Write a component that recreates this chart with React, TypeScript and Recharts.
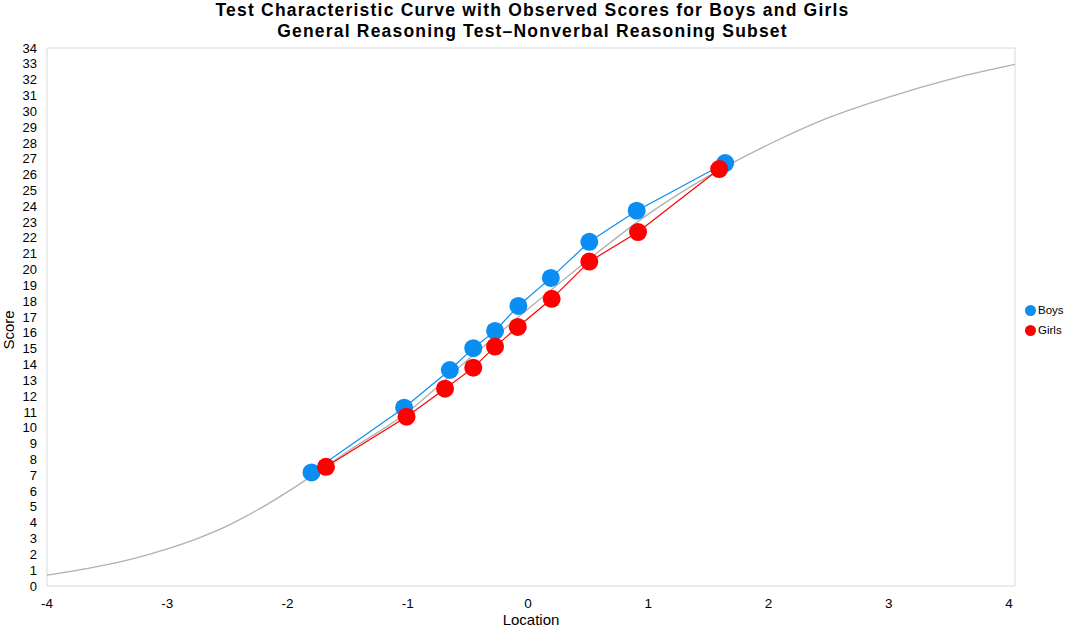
import React from 'react';
import { ComposedChart, Line, XAxis, YAxis, ReferenceArea } from 'recharts';

const curveLoc = [-4, -3.5, -3.25, -3, -2.75, -2.5, -2.25, -2, -1.75, -1.5, -1, -0.5, 0, 0.5, 1, 1.5, 2, 2.5, 3, 3.5, 4.05];
const curveScore = [0.68, 1.35, 1.8, 2.35, 3.0, 3.8, 4.8, 5.95, 7.2, 8.5, 11.0, 14.3, 17.5, 20.6, 23.5, 25.9, 27.9, 29.6, 30.9, 32.0, 32.96];

const boysLoc = [-1.8, -1.03, -0.65, -0.455, -0.274, -0.08, 0.19, 0.51, 0.904, 1.64];
const boysScore = [7.18, 11.27, 13.65, 15.03, 16.12, 17.7, 19.47, 21.75, 23.72, 26.73];

const girlsLoc = [-1.68, -1.01, -0.69, -0.455, -0.274, -0.085, 0.197, 0.51, 0.915, 1.59];
const girlsScore = [7.53, 10.7, 12.47, 13.8, 15.13, 16.37, 18.15, 20.5, 22.37, 26.35];

const xTicks = [-4, -3, -2, -1, 0, 1, 2, 3, 4];
const yTicks = Array.from({ length: 35 }, (_, i) => i);

const titleLines = [
  'Test Characteristic Curve with Observed Scores for Boys and Girls',
  'General Reasoning Test\u2013Nonverbal Reasoning Subset',
];

const BLUE = '#0a8ef4';
const RED = '#ff0000';
const FONT = '"Liberation Sans", Arial, sans-serif';

const curveData = curveLoc.map((x, i) => ({ x, y: curveScore[i] }));
const boysData = boysLoc.map((x, i) => ({ x, y: boysScore[i] }));
const girlsData = girlsLoc.map((x, i) => ({ x, y: girlsScore[i] }));

export default function App() {
  return (
    <div style={{ position: 'absolute', left: 0, top: 0, width: 1065, height: 627, background: '#fff', fontFamily: FONT }}>
      <div style={{ position: 'absolute', left: 0, top: 0, width: 1065, textAlign: 'center', fontWeight: 'bold', fontSize: 17.5, letterSpacing: 1.2, lineHeight: '21px', color: '#000' }}>
        {titleLines.map((t) => (
          <div key={t}>{t}</div>
        ))}
      </div>
      <ComposedChart width={1065} height={627} margin={{ top: 48, right: 50, bottom: 11, left: 7 }}>
        <XAxis
          type="number"
          dataKey="x"
          domain={[-4, 4.05]}
          ticks={xTicks}
          interval={0}
          allowDataOverflow
          height={30}
          axisLine={false}
          tickLine={false}
          tickMargin={6}
          tick={{ fontSize: 13.5, fill: '#000', fontFamily: FONT }}
          label={{ value: 'Location', position: 'insideBottom', offset: -9, fontSize: 15, fill: '#000', fontFamily: FONT }}
        />
        <YAxis
          type="number"
          dataKey="y"
          domain={[0, 34]}
          ticks={yTicks}
          interval={0}
          width={40}
          axisLine={false}
          tickLine={false}
          tickMargin={4}
          tick={{ fontSize: 13, fill: '#000', fontFamily: FONT }}
        />
        <ReferenceArea x1={-4} x2={4.05} y1={0} y2={34} fill="none" stroke="#d9d9d9" strokeWidth={1} ifOverflow="visible" />
        <Line data={curveData} dataKey="y" type="monotone" stroke="#b0b0b0" strokeWidth={1.3} dot={false} activeDot={false} isAnimationActive={false} legendType="none" />
        <Line data={boysData} dataKey="y" name="Boys" type="linear" stroke={BLUE} strokeWidth={1.2} dot={{ r: 9, fill: BLUE, stroke: 'none' }} activeDot={false} isAnimationActive={false} />
        <Line data={girlsData} dataKey="y" name="Girls" type="linear" stroke={RED} strokeWidth={1.2} dot={{ r: 9, fill: RED, stroke: 'none' }} activeDot={false} isAnimationActive={false} />
      </ComposedChart>
      <div style={{ position: 'absolute', left: 9, top: 330, width: 0, height: 0 }}>
        <div style={{ position: 'absolute', left: -30, top: -9, width: 60, height: 18, lineHeight: '18px', textAlign: 'center', fontSize: 15, color: '#000', transform: 'rotate(-90deg)' }}>
          Score
        </div>
      </div>
      <div style={{ position: 'absolute', left: 1025, top: 300, fontSize: 11.5, color: '#000', lineHeight: '20px' }}>
        {[
          { name: 'Boys', color: BLUE },
          { name: 'Girls', color: RED },
        ].map((e) => (
          <div key={e.name} style={{ display: 'flex', alignItems: 'center', height: 20 }}>
            <span style={{ display: 'inline-block', width: 11, height: 11, borderRadius: '50%', background: e.color, marginRight: 2 }} />
            <span>{e.name}</span>
          </div>
        ))}
      </div>
    </div>
  );
}
